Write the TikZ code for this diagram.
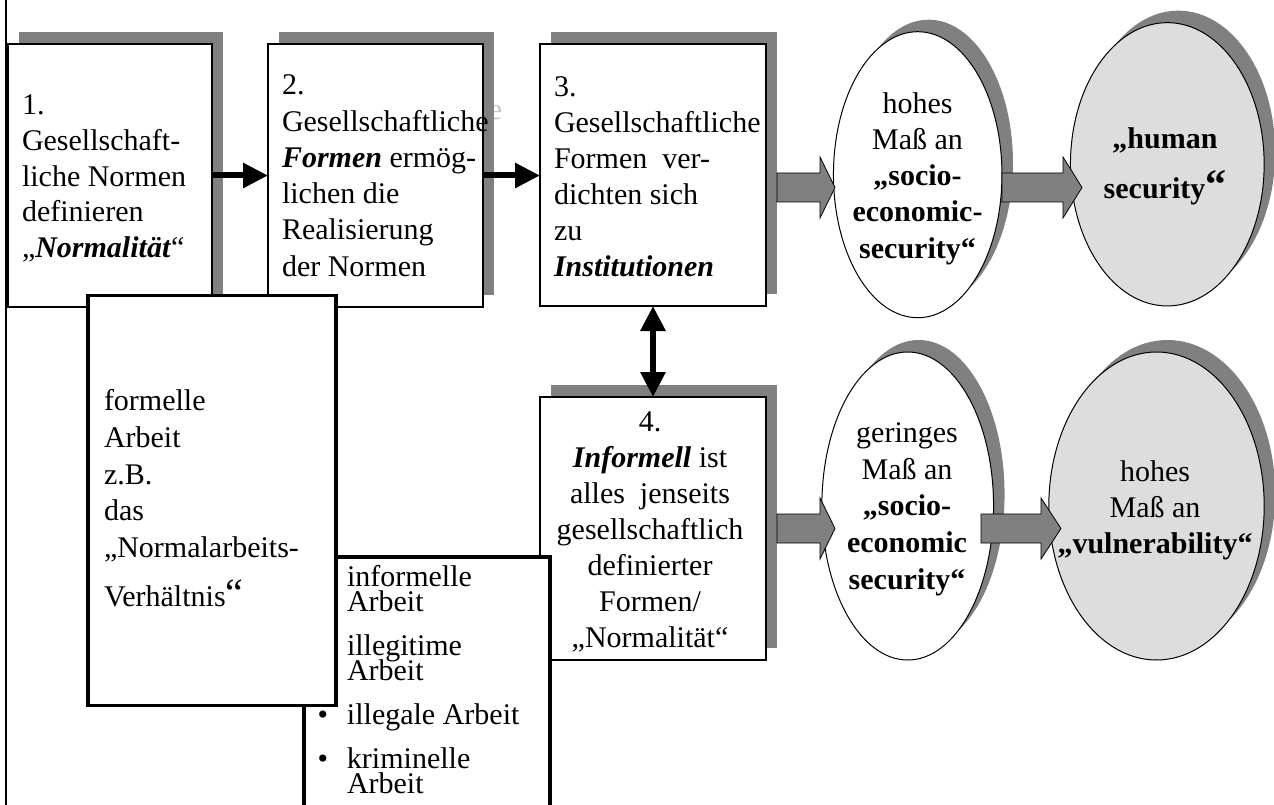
\documentclass[tikz,border=0pt]{standalone}
\usepackage{fontspec}
\setmainfont{Liberation Serif}
\usetikzlibrary{arrows.meta,shapes.geometric}
\definecolor{shadowgray}{HTML}{808080}
\definecolor{lightfill}{HTML}{DDDDDD}
\definecolor{ghostgray}{HTML}{C4C4C4}
\newcommand{\myfs}[1]{\fontsize{30}{#1}\selectfont}
\newcommand{\blockarrow}[3]{%
  \draw[blockarr] ([yshift=14.5pt]#1) -- ([yshift=14.5pt]#2) -- ([yshift=30.5pt]#2) -- (#3)
    -- ([yshift=-30.5pt]#2) -- ([yshift=-14.5pt]#2) -- ([yshift=-14.5pt]#1) -- cycle;}
\begin{document}
\begin{tikzpicture}[x=1pt,y=-1pt,
  every node/.style={inner sep=0pt,outer sep=0pt},
  shrect/.style={rectangle,fill=shadowgray,draw=none},
  shell/.style={ellipse,fill=shadowgray,draw=none},
  boxst/.style={rectangle,draw=black,line width=1.2pt,fill=white},
  ellst/.style={ellipse,draw=black,line width=1pt},
  thickbox/.style={rectangle,draw=black,line width=3.8pt,fill=white},
  txt/.style={font=\myfs{35.7},align=left,anchor=west},
  ctxt/.style={font=\myfs{36},align=center},
  blackarr/.style={line width=6pt,-{Triangle[length=25pt,width=24pt]}},
  dblarr/.style={line width=6pt,{Triangle[length=25pt,width=24pt]}-{Triangle[length=25pt,width=24pt]}},
  blockarr/.style={fill=shadowgray,draw=black,line width=0.8pt}]
\useasboundingbox (0,0) rectangle (1274,805);
\clip (0,0) rectangle (1274,805);
% left border line
\coordinate (lt) at (5.5,0);
\coordinate (lb) at (5.5,805);
\draw[line width=2pt] (lt) -- (lb);
% ghost letter
\node[font=\myfs{30},text=ghostgray,anchor=base] (ghost) at (495.5,120) {e};
% shadows
\node[shrect,minimum width=204pt,minimum height=263pt] (b1s) at (121,163.5) {};
\node[shrect,minimum width=215pt,minimum height=263pt] (b2s) at (386.5,163.5) {};
\node[shrect,minimum width=226pt,minimum height=262pt] (b3s) at (664,163) {};
\node[shrect,minimum width=226pt,minimum height=263pt] (b4s) at (664,516.5) {};
\node[shell,minimum width=168.5pt,minimum height=286pt] (e1s) at (928.7,162.7) {};
\node[shell,minimum width=193.7pt,minimum height=283.3pt] (e2s) at (1178.3,152.3) {};
\node[shell,minimum width=171.7pt,minimum height=308pt] (e3s) at (918.7,494) {};
\node[shell,minimum width=215.4pt,minimum height=308pt] (e4s) at (1167.5,494) {};
% boxes
\node[boxst,minimum width=204pt,minimum height=263pt] (b1) at (110,175.5) {};
\node[boxst,minimum width=215pt,minimum height=263pt] (b2) at (375.5,175.5) {};
\node[boxst,minimum width=226pt,minimum height=262pt] (b3) at (653,175) {};
\node[boxst,minimum width=226pt,minimum height=263pt] (b4) at (653,528.5) {};
% ellipses
\node[ellst,fill=white,minimum width=168.5pt,minimum height=286pt] (e1) at (917.7,174.7) {};
\node[ellst,fill=lightfill,minimum width=193.7pt,minimum height=283.3pt] (e2) at (1167.3,164.3) {};
\node[ellst,fill=white,minimum width=171.7pt,minimum height=308pt] (e3) at (907.7,506) {};
\node[ellst,fill=lightfill,minimum width=215.4pt,minimum height=308pt] (e4) at (1156.5,506) {};
% grey block arrows
\coordinate (g1a) at (777,187.5); \coordinate (g1b) at (820,187.5); \coordinate (g1c) at (835,187.5);
\coordinate (g2a) at (1002,187.5); \coordinate (g2b) at (1063,187.5); \coordinate (g2c) at (1082,187.5);
\coordinate (g3a) at (777,528.5); \coordinate (g3b) at (820,528.5); \coordinate (g3c) at (835,528.5);
\coordinate (g4a) at (981,528.5); \coordinate (g4b) at (1041,528.5); \coordinate (g4c) at (1061,528.5);
\blockarrow{g1a}{g1b}{g1c}
\blockarrow{g2a}{g2b}{g2c}
\blockarrow{g3a}{g3b}{g3c}
\blockarrow{g4a}{g4b}{g4c}
% black arrows
\draw[blackarr] (b1.east) -- (b2.west);
\draw[blackarr] (b2.east) -- (b2.east -| b3.west);
\draw[dblarr] (b3.south) -- (b4.north);
% box texts
\node[txt] (t1) at (22,178.5) {1.\\Gesellschaft-\\liche Normen\\definieren\\„\textbf{\textit{Normalität}}“};
\node[txt,font=\myfs{36.3}] (t2) at (282,175.7) {2.\\Gesellschaftliche\\\textbf{\textit{Formen}} ermög-\\lichen die\\Realisierung\\der Normen};
\node[txt,font=\myfs{35.9}] (t3) at (554,176.7) {3.\\Gesellschaftliche\\Formen\ \ ver-\\dichten sich\\zu\\\textbf{\textit{Institutionen}}};
\node[ctxt] (t4) at (650,531.8) {4.\\\textbf{\textit{Informell}} ist\\alles\ \ jenseits\\gesellschaftlich\\definierter\\Formen/\\„Normalität“};
% ellipse texts
\node[ctxt,font=\myfs{36.25}] (te1) at (917.5,178.5) {hohes\\Maß an\\\textbf{„socio-}\\\textbf{economic-}\\\textbf{security“}};
\node[ctxt,font=\myfs{50}] (te2) at (1165,166) {\textbf{„human}\\\textbf{security}{\fontsize{42}{42}\selectfont\bfseries “}};
\node[ctxt,font=\myfs{36.7}] (te3) at (907,509.3) {geringes\\Maß an\\\textbf{„socio-}\\\textbf{economic}\\\textbf{security“}};
\node[ctxt,font=\myfs{36}] (te4) at (1155,509.9) {hohes\\Maß an\\\textbf{„vulnerability“}};
% informal work box
\node[thickbox,minimum width=246.7pt,minimum height=300pt] (ib) at (427,707.2) {};
\node[align=left,anchor=north west,font={\myfs{25}\lineskiplimit=-100pt}] (ti) at (347,565.5)
  {informelle\\Arbeit\\[19pt]illegitime\\Arbeit\\[19pt]\llap{•\hspace{19pt}}illegale Arbeit\\[19pt]\llap{•\hspace{19pt}}kriminelle\\Arbeit};
% formal work box
\node[thickbox,minimum width=248pt,minimum height=410pt] (fb) at (212,500.5) {};
\node[txt,font=\myfs{36.7}] (tf) at (104,498.3) {formelle\\Arbeit\\z.B.\\das\\„Normalarbeits-\\[12.5pt]Verhältnis{\fontsize{40}{40}\selectfont “}};
\end{tikzpicture}
\end{document}
